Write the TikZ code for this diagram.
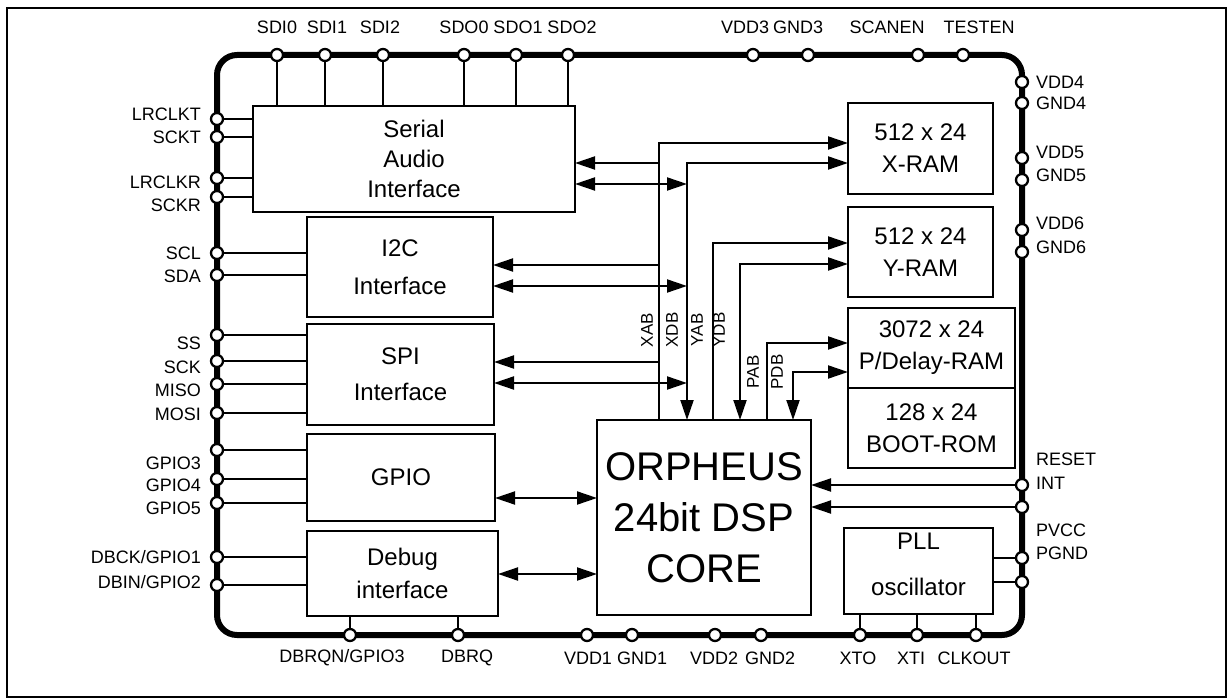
\documentclass[tikz,border=0pt]{standalone}
\usepackage{fontspec}
\setmainfont{Liberation Sans}
\usetikzlibrary{arrows.meta}
\begin{document}
\begin{tikzpicture}[x=1pt,y=-1pt,
  box/.style={draw, line width=2.4pt, inner sep=0pt, outer sep=0pt, anchor=north west, align=center, font=\fontsize{24}{32}\selectfont},
  pin/.style={circle, draw, fill=white, line width=2.3pt, minimum size=12pt, inner sep=0pt},
  wire/.style={line width=2pt},
  arr/.style={wire, -{Triangle[length=20pt,width=13pt]}},
  darr/.style={wire, {Triangle[length=20pt,width=13pt]}-{Triangle[length=20pt,width=13pt]}},
  lbl/.style={font=\fontsize{18}{20}\selectfont, inner sep=0pt},
  lblL/.style={lbl, anchor=east},
  lblR/.style={lbl, anchor=west},
  bus/.style={font=\fontsize{17}{18}\selectfont, rotate=90, inner sep=0pt},
]
\useasboundingbox (0,0) rectangle (1228,700);
\draw[line width=2.5pt] (7,8) rectangle (1226,697);
% chip outline
\draw[line width=6pt, rounded corners=20pt] (217,55) rectangle (1022,635);

% blocks
\node[box, minimum width=322pt, minimum height=106pt, font=\fontsize{24}{30}\selectfont] (sai) at (253,106) {Serial\\Audio\\Interface};
\node[box, minimum width=186pt, minimum height=100pt, font=\fontsize{24}{38}\selectfont] (i2c) at (307,217) {I2C\\Interface};
\node[box, minimum width=187pt, minimum height=101pt, font=\fontsize{24}{36}\selectfont] (spi) at (307,324) {SPI\\Interface};
\node[box, minimum width=188pt, minimum height=87pt] (gpio) at (307,434) {GPIO};
\node[box, minimum width=191pt, minimum height=85pt, font=\fontsize{24}{33}\selectfont] (dbg) at (307,531) {Debug\\interface};
\node[box, minimum width=214pt, minimum height=195pt, font=\fontsize{40}{51}\selectfont] (core) at (597,420) {ORPHEUS\\24bit DSP\\CORE};
\node[box, minimum width=145pt, minimum height=91pt] (xram) at (848,103) {512 x 24\\X-RAM};
\node[box, minimum width=145pt, minimum height=90pt] (yram) at (848,207) {512 x 24\\Y-RAM};
\node[box, minimum width=167pt, minimum height=80pt] (pram) at (848,308) {3072 x 24\\P/Delay-RAM};
\node[box, minimum width=167pt, minimum height=80pt] (brom) at (848,388) {128 x 24\\BOOT-ROM};
\node[box, minimum width=149pt, minimum height=86pt, font=\fontsize{24}{46}\selectfont, text depth=14pt] (pll) at (844,528) {PLL\\oscillator};

% bus coordinates
\coordinate (xab) at (659,143);
\coordinate (xdb) at (687,163);
\coordinate (yab) at (713,243);
\coordinate (ydb) at (740,264);
\coordinate (pab) at (767,343);
\coordinate (pdb) at (793,372);
\coordinate (saiA) at (659,163);
\coordinate (saiD) at (687,184);
\coordinate (i2cA) at (659,265);
\coordinate (i2cD) at (687,286);
\coordinate (spiA) at (659,362);
\coordinate (spiD) at (687,383);
\coordinate (gpioC) at (500,498);
\coordinate (dbgC) at (500,574);

\draw[arr] (xab |- core.north) -- (xab) -- (xab -| xram.west);
\draw[darr] (xdb |- core.north) -- (xdb) -- (xdb -| xram.west);
\draw[arr] (yab |- core.north) -- (yab) -- (yab -| yram.west);
\draw[darr] (ydb |- core.north) -- (ydb) -- (ydb -| yram.west);
\draw[arr] (pab |- core.north) -- (pab) -- (pab -| pram.west);
\draw[darr] (pdb |- core.north) -- (pdb) -- (pdb -| pram.west);

\draw[arr] (saiA) -- (saiA -| sai.east);
\draw[darr] (saiD -| sai.east) -- (saiD);
\draw[arr] (i2cA) -- (i2cA -| i2c.east);
\draw[darr] (i2cD -| i2c.east) -- (i2cD);
\draw[arr] (spiA) -- (spiA -| spi.east);
\draw[darr] (spiD -| spi.east) -- (spiD);
\draw[darr] (gpioC -| gpio.east) -- (gpioC -| core.west);
\draw[darr] (dbgC -| dbg.east) -- (dbgC -| core.west);

\node[bus] (lxab) at (647,330) {XAB};
\node[bus] (lxdb) at (672,330) {XDB};
\node[bus] (lyab) at (697,330) {YAB};
\node[bus] (lydb) at (719,330) {YDB};
\node[bus] (lpab) at (753,372) {PAB};
\node[bus] (lpdb) at (777,372) {PDB};

% pins: top
\foreach \x in {277, 325, 383, 464, 516, 568}{
  \draw[wire] (\x,55) -- (\x,106);
}
\foreach \n/\x in {sdi0/277, sdi1/325, sdi2/383, sdo0/464, sdo1/516, sdo2/568, vdd3/753, gnd3/808, scanen/918, testen/963}{
  \node[pin] (p-\n) at (\x,55) {};
}
\foreach \n/\x/\t in {sdi0/277/SDI0, sdi1/327/SDI1, sdi2/380/SDI2, sdo0/464/SDO0, sdo1/518/SDO1, sdo2/572/SDO2, vdd3/745/VDD3, gnd3/798/GND3, scanen/887/SCANEN, testen/979/TESTEN}{
  \node[lbl] (l-\n) at (\x,27) {\t};
}

% pins: left
\foreach \n/\y/\b in {lrclkt/119/sai, sckt/137/sai, lrclkr/178/sai, sckr/197/sai, scl/253/i2c, sda/275/i2c, ss/335/spi, sck/361/spi, miso/384/spi, mosi/413/spi, g0/450/gpio, g3/479/gpio, g4/503/gpio, dbck/557/dbg, dbin/585/dbg}{
  \coordinate (c-\n) at (217,\y);
  \draw[wire] (c-\n) -- (c-\n -| \b.west);
  \node[pin] (p-\n) at (c-\n) {};
}
\foreach \n/\y/\t in {lrclkt/114/LRCLKT, sckt/137/SCKT, lrclkr/182/LRCLKR, sckr/205/SCKR, scl/253/SCL, sda/276/SDA, ss/343/SS, sck/367/SCK, miso/390/MISO, mosi/414/MOSI, g3/463/GPIO3, g4/485/GPIO4, g5/508/GPIO5, dbck/557/{DBCK/GPIO1}, dbin/582/{DBIN/GPIO2}}{
  \node[lblL] (l-\n) at (201,\y) {\t};
}

% pins: right
\foreach \n/\y in {vdd4/82, gnd4/103, vdd5/158, gnd5/180, vdd6/230, gnd6/252}{
  \node[pin] (p-\n) at (1022,\y) {};
}
\coordinate (c-reset) at (1022,485);
\coordinate (c-int) at (1022,507);
\draw[arr] (c-reset) -- (c-reset -| core.east);
\draw[arr] (c-int) -- (c-int -| core.east);
\node[pin] (p-reset) at (c-reset) {};
\node[pin] (p-int) at (c-int) {};
\coordinate (c-pvcc) at (1022,558);
\coordinate (c-pgnd) at (1022,582);
\draw[wire] (c-pvcc) -- (c-pvcc -| pll.east);
\draw[wire] (c-pgnd) -- (c-pgnd -| pll.east);
\node[pin] (p-pvcc) at (c-pvcc) {};
\node[pin] (p-pgnd) at (c-pgnd) {};
\foreach \n/\y/\t in {vdd4/82/VDD4, gnd4/103/GND4, vdd5/152/VDD5, gnd5/175/GND5, vdd6/223/VDD6, gnd6/247/GND6, reset/459/RESET, int/483/INT, pvcc/530/PVCC, pgnd/553/PGND}{
  \node[lblR] (l-\n) at (1036,\y) {\t};
}

% pins: bottom
\foreach \n/\x/\b in {dbrqn/350/dbg, dbrq/458/dbg, xto/860/pll, xti/917/pll, clkout/976/pll}{
  \coordinate (c-\n) at (\x,635);
  \draw[wire] (c-\n) -- (c-\n |- \b.south);
  \node[pin] (p-\n) at (c-\n) {};
}
\foreach \n/\x in {vdd1/587, gnd1/632, vdd2/715, gnd2/761}{
  \node[pin] (p-\n) at (\x,635) {};
}
\foreach \n/\x/\t in {dbrqn/342/{DBRQN/GPIO3}, dbrq/467/DBRQ, vdd1/588/VDD1, gnd1/642/GND1, vdd2/714/VDD2, gnd2/770/GND2, xto/858/XTO, xti/911/XTI, clkout/974/CLKOUT}{
  \node[lbl] (l-\n) at (\x,658) {\t};
}
\end{tikzpicture}
\end{document}
